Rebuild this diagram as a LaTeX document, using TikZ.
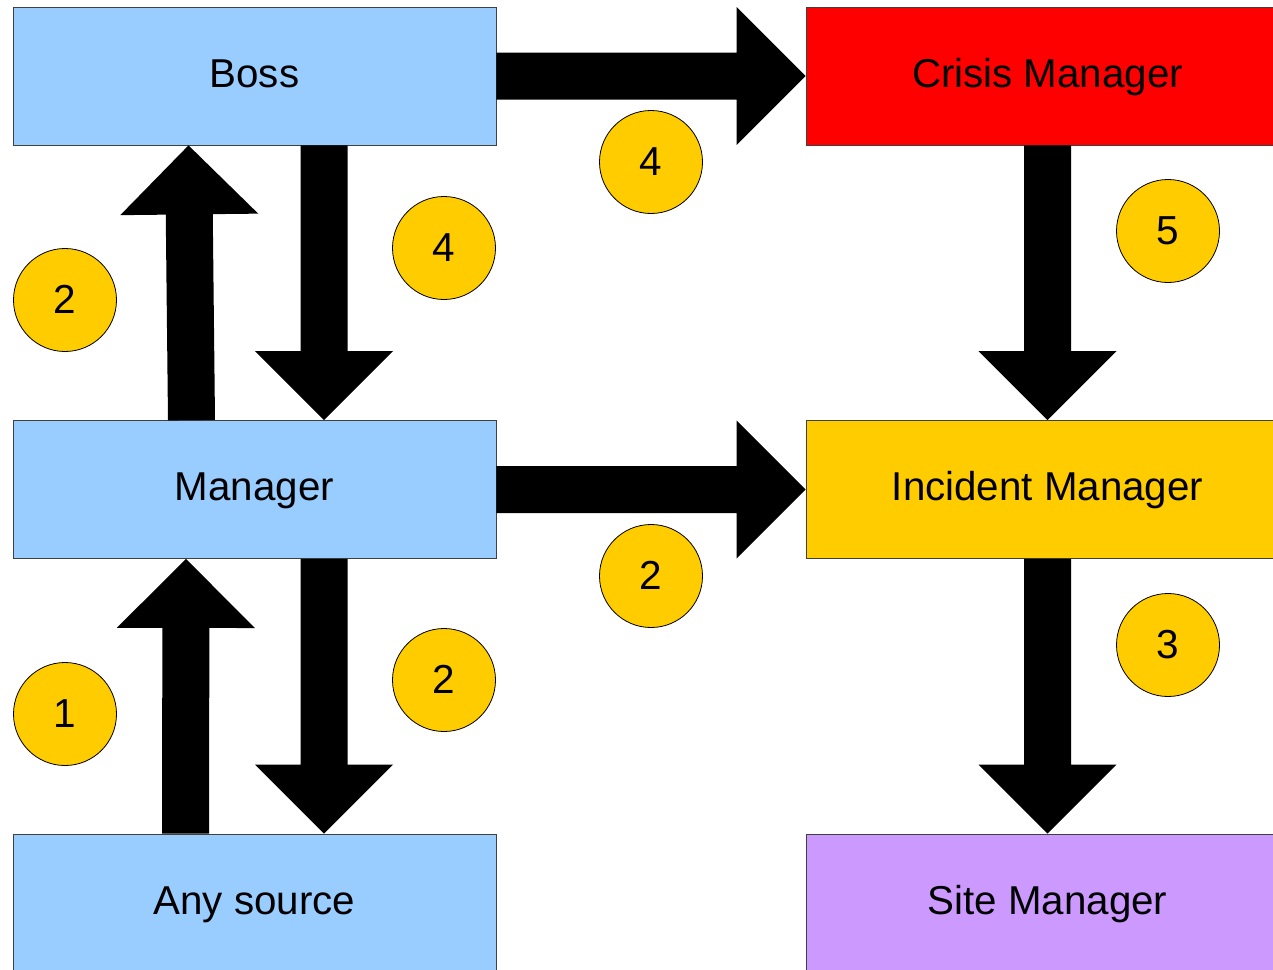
\documentclass[tikz,border=0pt]{standalone}
\usepackage{fontspec}
\setmainfont{Liberation Sans}
\usetikzlibrary{calc}
\definecolor{boxblue}{HTML}{99CCFF}
\definecolor{crisisred}{HTML}{FF0000}
\definecolor{incyellow}{HTML}{FFCC00}
\definecolor{sitepurple}{HTML}{CC99FF}
\definecolor{edgegray}{HTML}{404040}
\tikzset{
  box/.style={draw=edgegray, line width=0.8pt, minimum width=483pt, minimum height=138pt,
    inner sep=0pt, text height=22pt, text depth=0pt, font=\fontsize{40.3}{48}\selectfont},
  badge/.style={circle, draw=black, line width=0.8pt, fill=incyellow, minimum size=103pt,
    inner sep=0pt, text height=26pt, text depth=0pt, font=\fontsize{40.5}{48}\selectfont},
  arrowfill/.style={fill=black},
}
\newcommand\blockarrow[2]{%
  \fill[arrowfill] let \p1=(#1), \p2=(#2), \n1={atan2(\y2-\y1,\x2-\x1)} in
    ($(\p1)+(\n1+90:23.5pt)$)
    -- ($(\p2)+(\n1+180:69pt)+(\n1+90:23.5pt)$)
    -- ($(\p2)+(\n1+180:69pt)+(\n1+90:69pt)$)
    -- (\p2)
    -- ($(\p2)+(\n1+180:69pt)+(\n1-90:69pt)$)
    -- ($(\p2)+(\n1+180:69pt)+(\n1-90:23.5pt)$)
    -- ($(\p1)+(\n1-90:23.5pt)$) -- cycle;}
\begin{document}
\begin{tikzpicture}[x=1pt,y=-1pt]
\useasboundingbox (0,0) rectangle (1273,969);
\clip (0,0) rectangle (1273,969);
\fill[white] (0,0) rectangle (1273,969);
% boxes
\node[box, fill=boxblue] (boss) at (254.5,76) {Boss};
\node[box, fill=boxblue] (manager) at (254.5,489.5) {Manager};
\node[box, fill=boxblue] (any) at (254.5,903) {Any source};
\node[box, fill=crisisred] (crisis) at (1047.5,76) {Crisis Manager};
\node[box, fill=incyellow] (incident) at (1047.5,489.5) {Incident Manager};
\node[box, fill=sitepurple] (site) at (1047.5,903) {Site Manager};
% arrow end points
\coordinate (bmA) at ($(boss.south)+(69.5,0)$);
\coordinate (bmB) at ($(manager.north)+(69.5,0)$);
\coordinate (mbA) at ($(manager.north)+(-63,0)$);
\coordinate (mbB) at ($(boss.south)+(-66,0)$);
\coordinate (maA) at ($(manager.south)+(69.5,0)$);
\coordinate (maB) at ($(any.north)+(69.5,0)$);
\coordinate (amA) at ($(any.north)+(-69,0)$);
\coordinate (amB) at ($(manager.south)+(-68.5,0)$);
% arrows
\blockarrow{boss.east}{crisis.west}
\blockarrow{bmA}{bmB}
\blockarrow{mbA}{mbB}
\blockarrow{manager.east}{incident.west}
\blockarrow{maA}{maB}
\blockarrow{amA}{amB}
\blockarrow{crisis.south}{incident.north}
\blockarrow{incident.south}{site.north}
% badges
\node[badge] (b1) at (651,162) {4};
\node[badge] (b2) at (444,248) {4};
\node[badge] (b3) at (65,300) {2};
\node[badge] (b4) at (1168,231) {5};
\node[badge] (b5) at (651,576) {2};
\node[badge] (b6) at (444,680) {2};
\node[badge] (b7) at (65,714) {1};
\node[badge] (b8) at (1168,645) {3};
\end{tikzpicture}
\end{document}
